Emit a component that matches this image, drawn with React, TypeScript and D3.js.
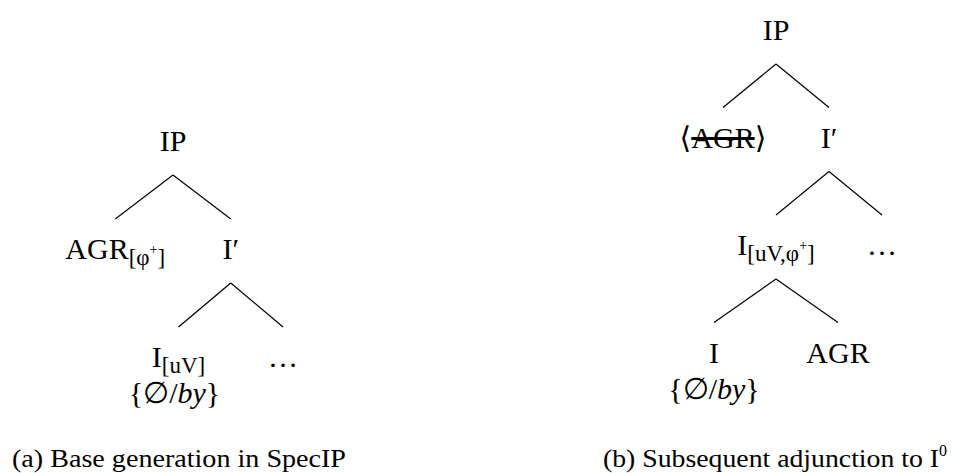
import React from "react";
import * as d3 from "d3";

// ---- data ----
type Node = {
  id: string;
  main: string;
  sub?: string;
  subSup?: string;
  subEnd?: string;
  strike?: boolean;
  gloss?: boolean;
  spread?: number;
  children?: Node[];
};

const treeA: Node = {
  id: "IP",
  main: "IP",
  spread: 1.05,
  children: [
    { id: "AGR", main: "AGR", sub: "[φ", subSup: "+", subEnd: "]" },
    {
      id: "I'",
      main: "I′",
      spread: 0.95,
      children: [
        { id: "I", main: "I", sub: "[uV]", gloss: true },
        { id: "dots", main: "…" },
      ],
    },
  ],
};

const treeB: Node = {
  id: "IP",
  main: "IP",
  children: [
    { id: "AGRcopy", main: "AGR", strike: true },
    {
      id: "I'",
      main: "I′",
      children: [
        {
          id: "Icomplex",
          main: "I",
          sub: "[uV,φ",
          subSup: "+",
          subEnd: "]",
          spread: 1.17,
          children: [
            { id: "I", main: "I", gloss: true },
            { id: "AGR", main: "AGR" },
          ],
        },
        { id: "dots", main: "…" },
      ],
    },
  ],
};

const glossParts = ["{∅/", "by", "}"];
const captionA = "(a) Base generation in SpecIP";
const captionB = ["(b) Subsequent adjunction to I", "0"];

const W = 957;
const H = 473;
const FONT = "'Liberation Serif', 'DejaVu Serif', serif";

function layoutTree(root: Node, rootX: number, rootY: number, dx: number, dy: number) {
  const h = d3.hierarchy<Node>(root);
  d3
    .tree<Node>()
    .nodeSize([1, 1])
    .separation((a, b) => (a.parent === b.parent ? a.parent?.data.spread ?? 1 : 1.2))(h);
  const xs = d3.scaleLinear().domain([0, 1]).range([rootX, rootX + dx]);
  const ys = d3.scaleLinear().domain([0, 1]).range([rootY, rootY + dy]);
  return { nodes: h.descendants(), links: h.links(), xs, ys };
}

function Label({ n, x, y }: { n: Node; x: number; y: number }) {
  return (
    <g>
      <text x={x} y={y} textAnchor="middle" fontSize={30} fontFamily={FONT} fill="#000">
        {n.strike ? (
          <>
            <tspan>⟨</tspan>
            <tspan style={{ textDecoration: "line-through" }}>{n.main}</tspan>
            <tspan>⟩</tspan>
          </>
        ) : (
          <tspan>{n.main}</tspan>
        )}
        {n.sub && (
          <>
            <tspan fontSize={23} dy={6}>
              {n.sub}
            </tspan>
            {n.subSup && (
              <tspan fontSize={14} dy={-11}>
                {n.subSup}
              </tspan>
            )}
            {n.subEnd && (
              <tspan fontSize={23} dy={n.subSup ? 11 : 0}>
                {n.subEnd}
              </tspan>
            )}
          </>
        )}
      </text>
      {n.gloss && (
        <text
          x={x + (n.sub ? -4 : 0)}
          y={y + 36}
          textAnchor="middle"
          fontSize={30}
          fontFamily={FONT}
          fill="#000"
        >
          <tspan>{glossParts[0]}</tspan>
          <tspan fontStyle="italic">{glossParts[1]}</tspan>
          <tspan>{glossParts[2]}</tspan>
        </text>
      )}
    </g>
  );
}

function Tree({ root, rootX, rootY, dx, dy }: { root: Node; rootX: number; rootY: number; dx: number; dy: number }) {
  const { nodes, links, xs, ys } = layoutTree(root, rootX, rootY, dx, dy);
  return (
    <g>
      {links.map((l, i) => (
        <line
          key={i}
          x1={xs(l.source.x!)}
          y1={ys(l.source.depth) + 24}
          x2={xs(l.target.x!)}
          y2={ys(l.target.depth) - 40}
          stroke="#000"
          strokeWidth={1.2}
        />
      ))}
      {nodes.map((n, i) => (
        <Label key={i} n={n.data} x={xs(n.x!)} y={ys(n.depth)} />
      ))}
    </g>
  );
}

export default function App() {
  return (
    <svg
      width={W}
      height={H}
      viewBox={`0 0 ${W} ${H}`}
      style={{ position: "absolute", left: 0, top: 0, background: "#fff" }}
    >
      <rect width={W} height={H} fill="#fff" />
      <Tree root={treeA} rootX={173} rootY={151} dx={110} dy={108} />
      <Tree root={treeB} rootX={776} rootY={40} dx={106} dy={107.5} />
      <text
        x={12}
        y={467}
        fontSize={25}
        fontFamily={FONT}
        fill="#000"
        textLength={334}
        lengthAdjust="spacingAndGlyphs"
      >
        {captionA}
      </text>
      <text x={603} y={467} fontSize={25} fontFamily={FONT} fill="#000">
        <tspan textLength={336} lengthAdjust="spacingAndGlyphs">
          {captionB[0]}
        </tspan>
        <tspan fontSize={16} dy={-11}>
          {captionB[1]}
        </tspan>
      </text>
    </svg>
  );
}
